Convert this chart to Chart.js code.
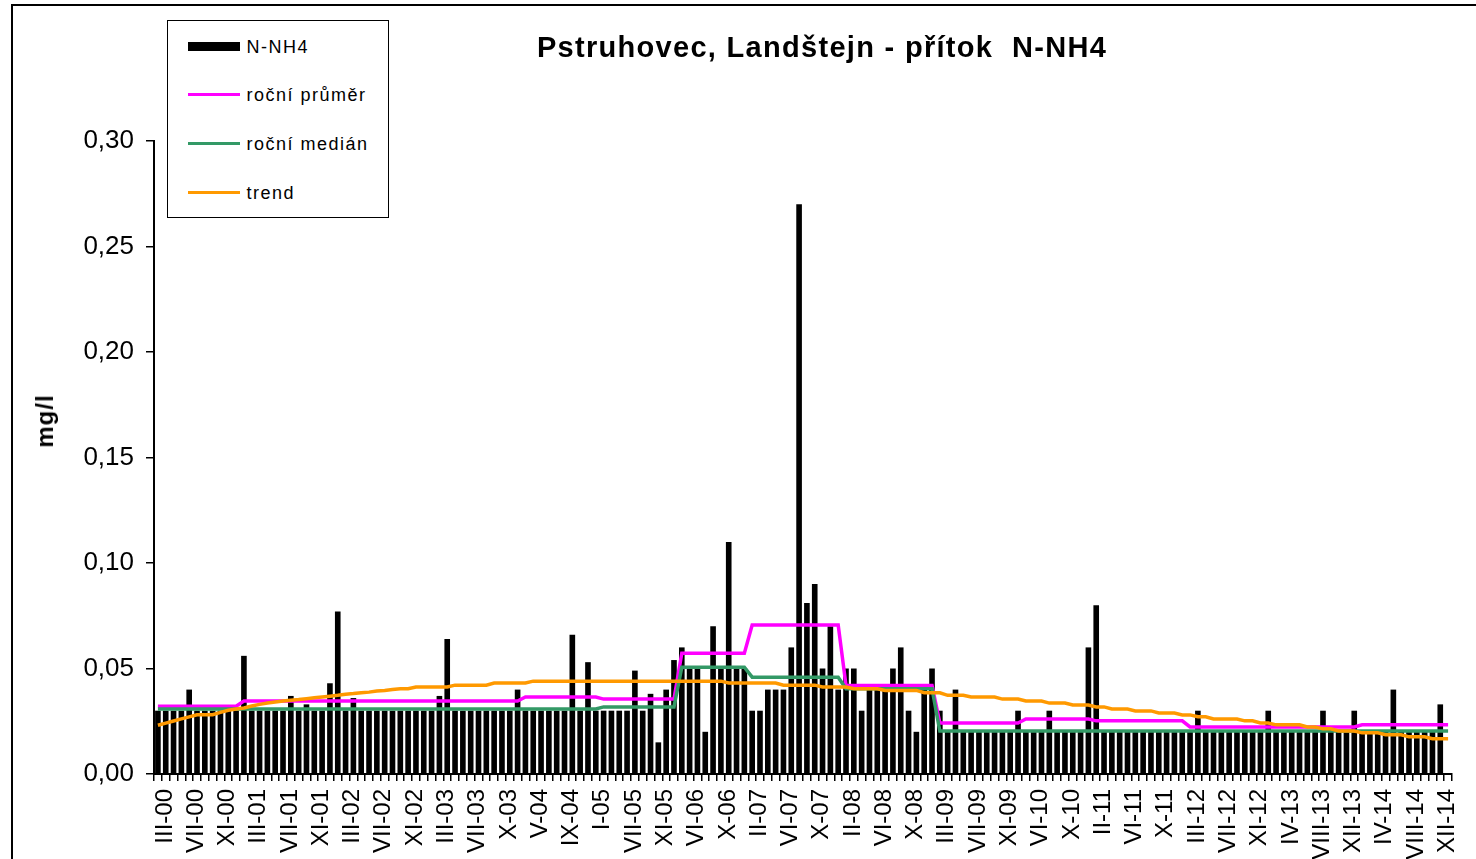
<!DOCTYPE html>
<html>
<head>
<meta charset="utf-8">
<title>Pstruhovec, Landštejn - přítok N-NH4</title>
<script src="https://cdn.jsdelivr.net/npm/chart.js@4.4.1/dist/chart.umd.min.js"></script>
<style>
  html, body { margin: 0; padding: 0; background: #fff; overflow: hidden; }
  #wrap { position: relative; width: 1476px; height: 859px; overflow: hidden;
          font-family: "Liberation Sans", Arial, sans-serif; color: #000; }
  #frame { position: absolute; left: 11px; top: 4px; width: 1700px; height: 1100px;
           border-left: 2px solid #000; border-top: 2px solid #000; }
  #chart { position: absolute; left: 0; top: 0; }
  #title { position: absolute; left: 0; width: 1644px; top: 31px; line-height: 32px;
           text-align: center; font-weight: bold; font-size: 29px; letter-spacing: 1.3px; white-space: pre; }
  #ytitle { position: absolute; left: 45px; top: 421px; transform: translate(-50%, -50%) rotate(-90deg);
            font-weight: bold; font-size: 24px; letter-spacing: 1px; white-space: nowrap; }
  #legend { position: absolute; left: 167px; top: 20px; width: 220px; height: 196px;
            border: 1.5px solid #000; background: #fff; }
  .item { position: absolute; left: 0; width: 220px; height: 24px; }
  .swatch { position: absolute; left: 19.5px; width: 52px; }
  .label { position: absolute; left: 78.5px; top: 0; line-height: 24px; font-size: 18px;
           letter-spacing: 1.5px; white-space: nowrap; }
</style>
</head>
<body>
<div id="wrap">
  <div id="frame"></div>
  <canvas id="chart" width="1476" height="859"></canvas>
  <div id="title">Pstruhovec, Landštejn - přítok  N-NH4</div>
  <div id="ytitle">mg/l</div>
  <div id="legend"></div>
</div>
<script>
const tickLabels = ['III-00','VII-00','XI-00','III-01','VII-01','XI-01','III-02','VII-02','XI-02',
  'III-03','VII-03','X-03','V-04','IX-04','I-05','VII-05','XI-05','VI-06','X-06','II-07','VI-07',
  'X-07','II-08','VI-08','X-08','III-09','VII-09','XI-09','VI-10','X-10','II-11','VI-11','X-11',
  'III-12','VII-12','XI-12','IV-13','VIII-13','XII-13','IV-14','VIII-14','XII-14'];

// N-NH4 samples (mg/l), 166 categories, labelled every 4th
const nNH4 = [
  .03,.03,.03,.03,.04,.03,.03,.03,.03,.03,
  .03,.056,.03,.03,.03,.03,.03,.037,.03,.033,
  .03,.03,.043,.077,.03,.036,.03,.03,.03,.03,
  .03,.03,.03,.03,.03,.03,.037,.064,.03,.03,
  .03,.03,.03,.03,.03,.03,.04,.03,.03,.03,
  .03,.03,.03,.066,.03,.053,.03,.03,.03,.03,
  .03,.049,.03,.038,.015,.04,.054,.06,.05,.05,
  .02,.07,.05,.11,.05,.05,.03,.03,.04,.04,
  .04,.06,.27,.081,.09,.05,.07,.04,.05,.05,
  .03,.04,.04,.04,.05,.06,.03,.02,.04,.05,
  .03,.02,.04,.02,.02,.02,.02,.02,.02,.02,
  .03,.02,.02,.02,.03,.02,.02,.02,.02,.06,
  .08,.02,.02,.02,.02,.02,.02,.02,.02,.02,
  .02,.02,.02,.03,.02,.02,.02,.02,.02,.02,
  .02,.02,.03,.02,.02,.02,.02,.02,.02,.03,
  .02,.02,.02,.03,.02,.02,.02,.02,.04,.02,
  .02,.02,.02,.02,.033,null
];

const rocniPrumer = [
  .0321,.0321,.0321,.0321,.0321,.0321,.0321,.0321,.0321,.0321,
  .0321,.0346,.0346,.0346,.0346,.0346,.0346,.0346,.0346,.0346,
  .0346,.0346,.0346,.0346,.0346,.0346,.0346,.0346,.0346,.0346,
  .0346,.0346,.0346,.0346,.0346,.0346,.0346,.0346,.0346,.0346,
  .0346,.0346,.0346,.0346,.0346,.0346,.0346,.0365,.0365,.0365,
  .0365,.0365,.0365,.0365,.0365,.0365,.0365,.0355,.0355,.0355,
  .0355,.0355,.0355,.0355,.0355,.0355,.0355,.0572,.0572,.0572,
  .0572,.0572,.0572,.0572,.0572,.0572,.0706,.0706,.0706,.0706,
  .0706,.0706,.0706,.0706,.0706,.0706,.0706,.0706,.0420,.0420,
  .0420,.0420,.0420,.0420,.0420,.0420,.0420,.0420,.0420,.0420,
  .0242,.0242,.0242,.0242,.0242,.0242,.0242,.0242,.0242,.0242,
  .0242,.0261,.0261,.0261,.0261,.0261,.0261,.0261,.0261,.0261,
  .0252,.0252,.0252,.0252,.0252,.0252,.0252,.0252,.0252,.0252,
  .0252,.0252,.0223,.0223,.0223,.0223,.0223,.0223,.0223,.0223,
  .0223,.0223,.0223,.0223,.0223,.0223,.0223,.0223,.0223,.0223,
  .0223,.0223,.0223,.0223,.0233,.0233,.0233,.0233,.0233,.0233,
  .0233,.0233,.0233,.0233,.0233,.0233
];

const rocniMedian = [
  .0308,.0308,.0308,.0308,.0308,.0308,.0308,.0308,.0308,.0308,
  .0308,.0308,.0308,.0308,.0308,.0308,.0308,.0308,.0308,.0308,
  .0308,.0308,.0308,.0308,.0308,.0308,.0308,.0308,.0308,.0308,
  .0308,.0308,.0308,.0308,.0308,.0308,.0308,.0308,.0308,.0308,
  .0308,.0308,.0308,.0308,.0308,.0308,.0308,.0308,.0308,.0308,
  .0308,.0308,.0308,.0308,.0308,.0308,.0308,.0318,.0318,.0318,
  .0318,.0318,.0318,.0318,.0318,.0318,.0318,.0506,.0506,.0506,
  .0506,.0506,.0506,.0506,.0506,.0506,.0459,.0459,.0459,.0459,
  .0459,.0459,.0459,.0459,.0459,.0459,.0459,.0459,.0404,.0404,
  .0404,.0404,.0404,.0404,.0404,.0404,.0404,.0404,.0404,.0404,
  .0204,.0204,.0204,.0204,.0204,.0204,.0204,.0204,.0204,.0204,
  .0204,.0204,.0204,.0204,.0204,.0204,.0204,.0204,.0204,.0204,
  .0204,.0204,.0204,.0204,.0204,.0204,.0204,.0204,.0204,.0204,
  .0204,.0204,.0204,.0204,.0204,.0204,.0204,.0204,.0204,.0204,
  .0204,.0204,.0204,.0204,.0204,.0204,.0204,.0204,.0204,.0204,
  .0204,.0204,.0204,.0204,.0204,.0204,.0204,.0204,.0204,.0204,
  .0204,.0204,.0204,.0204,.0204,.0204
];

const trend = [
  .0231,.0241,.0251,.0261,.0271,.0281,.0281,.0281,.0292,.0302,
  .0308,.0313,.0322,.0330,.0336,.0341,.0346,.0350,.0353,.0357,
  .0361,.0365,.0369,.0373,.0378,.0381,.0385,.0388,.0393,.0396,
  .0400,.0404,.0404,.0412,.0412,.0412,.0412,.0412,.0421,.0421,
  .0421,.0421,.0421,.0431,.0431,.0431,.0431,.0431,.0440,.0440,
  .0440,.0440,.0440,.0440,.0440,.0440,.0440,.0440,.0440,.0440,
  .0440,.0440,.0440,.0440,.0440,.0440,.0440,.0440,.0440,.0440,
  .0440,.0440,.0440,.0431,.0431,.0431,.0431,.0431,.0431,.0431,
  .0421,.0421,.0421,.0421,.0421,.0412,.0412,.0412,.0412,.0404,
  .0404,.0404,.0404,.0396,.0396,.0396,.0396,.0396,.0385,.0385,
  .0385,.0373,.0373,.0373,.0365,.0365,.0365,.0365,.0355,.0355,
  .0355,.0346,.0346,.0346,.0336,.0336,.0336,.0327,.0327,.0327,
  .0318,.0318,.0308,.0308,.0308,.0299,.0299,.0299,.0289,.0289,
  .0289,.0280,.0280,.0271,.0271,.0261,.0261,.0261,.0261,.0252,
  .0252,.0242,.0242,.0233,.0233,.0233,.0233,.0223,.0223,.0214,
  .0214,.0204,.0204,.0204,.0195,.0195,.0195,.0186,.0186,.0186,
  .0176,.0176,.0176,.0167,.0167,.0167
];

const categories = nNH4.map((v, i) => (i % 4 === 0 && tickLabels[i / 4]) ? tickLabels[i / 4] : '');

Chart.defaults.font.family = '"Liberation Sans", Arial, sans-serif';
Chart.defaults.color = '#000';

const chart = new Chart(document.getElementById('chart'), {
  type: 'bar',
  data: {
    labels: categories,
    datasets: [
      { type: 'bar', label: 'N-NH4', data: nNH4, backgroundColor: '#000', borderWidth: 0,
        barPercentage: 0.72, categoryPercentage: 1, order: 4 },
      { type: 'line', label: 'roční průměr', data: rocniPrumer, borderColor: '#FF00FF',
        borderWidth: 3.5, pointRadius: 0, tension: 0, fill: false, order: 3 },
      { type: 'line', label: 'roční medián', data: rocniMedian, borderColor: '#339966',
        borderWidth: 3.5, pointRadius: 0, tension: 0, fill: false, order: 2 },
      { type: 'line', label: 'trend', data: trend, borderColor: '#FF9900',
        borderWidth: 3.5, pointRadius: 0, tension: 0, fill: false, order: 1 },
    ],
  },
  options: {
    responsive: false,
    animation: false,
    layout: { padding: { top: 141, right: 24, bottom: 0, left: 0 } },
    plugins: {
      legend: { display: false },
      title: { display: false },
      tooltip: { enabled: false },
    },
    scales: {
      x: {
        grid: { drawOnChartArea: false, drawTicks: true, tickLength: 7, color: '#000', lineWidth: 1.5, offset: true },
        border: { display: true, color: '#000', width: 2 },
        ticks: { autoSkip: false, minRotation: 90, maxRotation: 90, padding: 8, labelOffset: 7, font: { size: 24 } },
        afterFit: s => { s.height = 85; s.paddingLeft = 0; s.paddingRight = 0; },
      },
      y: {
        min: 0,
        max: 0.3,
        ticks: { stepSize: 0.05, padding: 12, font: { size: 26 }, callback: v => v.toFixed(2).replace('.', ',') },
        grid: { drawOnChartArea: false, tickLength: 8, color: '#000', lineWidth: 1.5 },
        border: { display: true, color: '#000', width: 2 },
        afterFit: s => { s.width = 154; s.paddingTop = 0; s.paddingBottom = 0; },
      },
    },
  },
});

// legend box built from the datasets
const legendRowY = [25.5, 73.5, 122.5, 171.5];
const legendEl = document.getElementById('legend');
chart.data.datasets.forEach((ds, k) => {
  const row = document.createElement('div');
  row.className = 'item';
  row.style.top = (legendRowY[k] - 12) + 'px';
  const sw = document.createElement('div');
  sw.className = 'swatch';
  const h = ds.type === 'bar' ? 9 : 3;
  sw.style.height = h + 'px';
  sw.style.top = (12 - h / 2) + 'px';
  sw.style.background = ds.type === 'bar' ? ds.backgroundColor : ds.borderColor;
  const txt = document.createElement('div');
  txt.className = 'label';
  txt.textContent = ds.label;
  row.appendChild(sw);
  row.appendChild(txt);
  legendEl.appendChild(row);
});
</script>
</body>
</html>
